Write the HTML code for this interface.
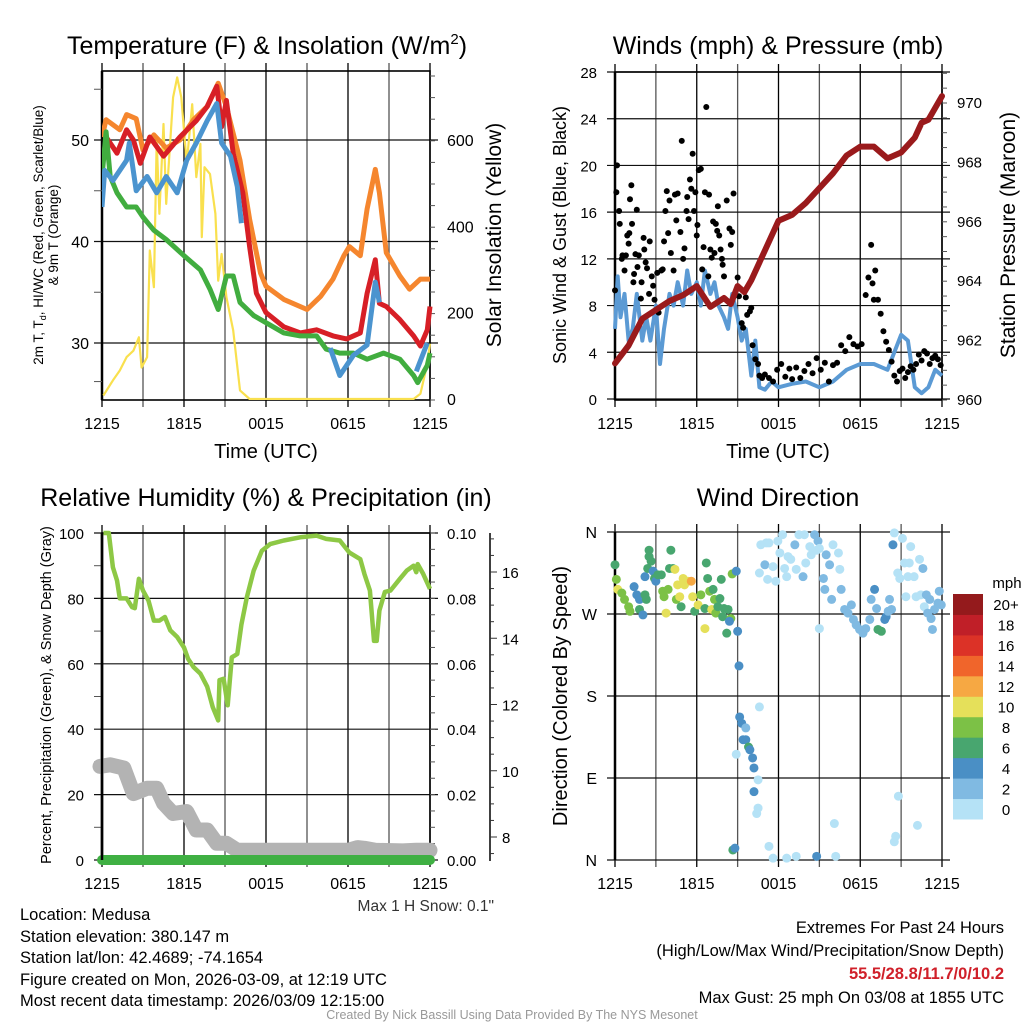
<!DOCTYPE html>
<html><head><meta charset="utf-8"><style>
html,body{margin:0;padding:0;background:#fff;}
svg{display:block;font-family:"Liberation Sans",Arial,sans-serif;}
</style></head><body>
<svg id="c" width="1024" height="1024" viewBox="0 0 1024 1024" xmlns="http://www.w3.org/2000/svg">
<rect width="1024" height="1024" fill="#fff"/>
<g id="p1"></g>
<g id="p2"></g>
<g id="p3"></g>
<g id="p4"></g>
<g font-size="25" text-anchor="middle" fill="#000">
<text x="267" y="54">Temperature (F) &amp; Insolation (W/m<tspan dy="-10" font-size="15">2</tspan><tspan dy="10">)</tspan></text>
<text x="778" y="54">Winds (mph) &amp; Pressure (mb)</text>
<text x="266" y="506">Relative Humidity (%) &amp; Precipitation (in)</text>
<text x="778" y="506">Wind Direction</text>
</g>
<g font-size="16.5" fill="#000">
<text x="494" y="911" text-anchor="end" fill="#333" font-size="15.5">Max 1 H Snow: 0.1"</text>
<text x="20" y="920">Location: Medusa</text>
<text x="20" y="942">Station elevation: 380.147 m</text>
<text x="20" y="963">Station lat/lon: 42.4689; -74.1654</text>
<text x="20" y="985">Figure created on Mon, 2026-03-09, at 12:19 UTC</text>
<text x="20" y="1006">Most recent data timestamp: 2026/03/09 12:15:00</text>
<text x="1004" y="933" text-anchor="end">Extremes For Past 24 Hours</text>
<text x="1004" y="956" text-anchor="end">(High/Low/Max Wind/Precipitation/Snow Depth)</text>
<text x="1004" y="979" text-anchor="end" fill="#d0202a" font-weight="bold">55.5/28.8/11.7/0/10.2</text>
<text x="1004" y="1003" text-anchor="end">Max Gust: 25 mph On 03/08 at 1855 UTC</text>
<text x="512" y="1019" text-anchor="middle" font-size="12.5" fill="#999">Created By Nick Bassill Using Data Provided By The NYS Mesonet</text>
</g>
</svg>
<script>
// ---------- DATA ----------
const xTickLabels=["1215","1815","0015","0615","1215"];
const redHours=[0.1,0.3,1.1,1.8,2.3,2.8,3.5,4.5,5.7,6.9,7.7,8.4,8.75,9.1,9.6,10.3,10.8,11.3,12,13.3,14.5,15.7,16.9,17.9,18.9,19.4,20,20.3,20.8,21.8,22.8,23.3,23.8,24];
const tempRed=[48,50.3,48.7,51,50,47.7,50.3,48.4,50.3,51.9,53.3,55.3,51.3,53.9,48.7,44.8,39.5,34.9,33,31.6,31,31.3,30.7,30.4,31,34.9,38.2,33.9,33.6,32.3,30.7,29.7,31.3,33.6];
const orangeHours=[0,0.3,1.3,1.8,2.5,3,3.8,4.7,5.7,6.7,7.7,8.5,9.1,10.1,10.8,11.6,12,13.3,15,16,16.9,17.7,18.1,18.9,19.4,20,20.3,20.8,21.8,22.5,23.3,24];
const tempOrange=[50.3,52,51,52.5,52.1,49,50.5,49.2,50,52,53.3,55.6,53.3,48,42.2,36.9,35.6,34.3,33.3,34.6,36.3,38.6,39.5,38.6,43.2,47.1,44.8,38.9,36.6,35.3,36.3,36.3];
const greenHours=[0,0.3,0.6,1.1,1.8,2.5,3,3.8,4.7,6,7.2,7.9,8.5,9.1,9.6,10.1,11.1,12,13.3,14.5,15.7,16.4,17.4,18.4,19.4,20.6,21.8,22.8,23.1,23.8,24];
const tempGreen=[46.4,50.8,46.4,44.8,43.4,43.4,42.4,41.1,40.2,38.6,37.2,35.3,33.3,36.6,36.6,34,32.7,32,31,30.7,30.7,29.4,29,29,28.4,29,28.4,26.8,26.1,27.8,29];
const blueHours=[0,0.2,0.8,1.8,2,2.5,3.3,4,4.7,5.5,6.2,6.9,7.7,8.4,8.75,9.4,9.9,10.2,10.3,16.7,17.4,18.4,19.4,20,20.3,20.5,23,23.8];
const tempBlue=[43.4,47,46,48,49.7,45,46.4,44.8,46.4,44.8,48,49.7,51.9,53.6,49.7,48.4,45.4,41.8,null,29.5,26.8,28.8,29.8,36,34,null,27.2,30];
const solarHours=[0.1,0.8,1.3,1.8,2.3,2.7,2.9,3.3,3.5,3.8,4,4.2,4.5,4.7,5.2,5.5,5.8,6.2,6.6,6.9,7.2,7.3,7.5,7.9,8.3,8.5,8.75,9.1,9.6,10.1,10.8,22.8,23.3,23.8,24];
const solar=[8,43,66,97,112,143,73,97,344,259,599,429,637,452,699,745,699,545,683,514,591,375,537,521,429,274,336,236,159,20,0,0,12,81,128];
const tempTicks=[30,40,50];
const solarTicks=[0,200,400,600];

const windHours=[0,0.2,0.4,0.7,1,1.3,1.6,2,2.3,2.6,3,3.3,3.6,4,4.3,4.6,5,5.3,5.6,6,6.3,6.6,7,7.3,7.6,8,8.3,8.6,9,9.3,9.6,10,10.3,10.6,11,11.5,12,13,14,15,16,17,18,19,20,20.5,21,21.5,22,22.5,23,23.5,24];
const windSpeed=[6,10.5,7,9,5,6,9,5,7,5,8,3,6,9,8,10,8,11,9,10,8,11,9,10,8,7,6,9,7,5,6,2,5,1,0.8,1.5,1,1.3,1.5,1,1.5,2.5,3,3,2.5,4,5.5,5,1,0.5,1,2.5,2];
const presHours=[0,1,2,3,4,5,6,7,8,8.5,9,9.5,10,11,12,13,14,15,16,17,18,19,20,21,22,22.5,23,24];
const pressure=[961.2,961.8,962.7,963,963.3,963.5,963.8,963.1,963.4,963.2,963.8,963.6,964,965,966,966.2,966.6,967.1,967.6,968.2,968.5,968.5,968.1,968.3,968.8,969.3,969.4,970.2];
const gustHours=[0,0.1,0.15,0.3,0.35,0.5,0.55,0.7,0.8,0.9,1,1.05,1.1,1.2,1.25,1.35,1.4,1.5,1.6,1.65,1.75,1.9,1.95,2.1,2.15,2.25,2.35,2.5,2.55,2.7,2.8,2.9,3.1,3.2,3.4,3.5,3.6,3.7,3.8,3.9,4,4.1,4.3,4.4,4.5,4.6,4.8,4.9,5,5.1,5.25,5.3,5.4,5.5,5.6,5.7,5.8,5.9,6,6.05,6.15,6.3,6.4,6.5,6.6,6.7,6.85,6.9,7,7.1,7.2,7.3,7.4,7.5,7.55,7.65,7.75,7.85,7.9,8,8.2,8.4,8.5,8.6,8.7,9,9.1,9.3,9.4,9.6,9.7,9.9,10,10.1,10.3,10.5,10.6,10.8,11,11.3,11.6,11.9,12.2,12.5,12.8,13,13.3,13.6,13.9,14.2,14.5,14.8,15.1,15.4,15.7,16,16.3,16.6,16.9,17.2,17.5,17.8,18.1,18.4,18.6,18.8,18.9,19,19.1,19.3,19.5,19.7,19.9,20.1,20.3,20.5,20.7,20.9,21.1,21.3,21.5,21.7,21.9,22.1,22.3,22.5,22.7,22.9,23.1,23.3,23.5,23.7,23.9];
const gustSpeed=[9.3,17.7,20,16.1,15,12,12.3,11,12.3,14,13.3,14.2,17.1,18.3,15,10,10.7,12.4,16.2,11.3,12.3,8.6,10,13.8,12.8,11.7,11.2,9,13.5,10.5,9.7,8.5,10.8,7.4,11,11.1,13.5,16.1,17.8,14.2,17,12.5,11,17.5,15.3,17.6,14.3,22.1,12,12.9,16.1,17.3,15.4,18.8,18,21,16.1,17.7,14,14.9,19.6,19.7,11.1,13,17.7,25,10.5,17.5,12.8,12.1,15.2,12.5,15,14.4,16.5,14,12.8,12,11.5,10.5,17,14.6,13.2,14.3,17.6,10.4,8.8,6.5,6.1,8.7,7.2,7.5,7.8,4.6,3.4,3,2,1.8,2.1,1.8,1.5,2.5,3,1.9,2.6,1.7,2.7,1.8,2.4,3,2.2,3.5,2.5,3.1,1.5,2.9,3.1,4.6,4.1,5.3,4.7,4.5,4.7,8.9,10.4,13.2,9.9,8.5,11,8.5,7.3,5.8,4.9,4.2,3.2,2,1.5,2.4,2.6,1.8,2.3,2.8,2.5,3,3.8,3.3,4.1,3.9,3,3.5,3.7,3.4,2.9];
const windTicks=[0,4,8,12,16,20,24,28];
const presTicks=[960,962,964,966,968,970];

const rhHours=[0.1,0.5,0.8,1.1,1.3,1.8,2.2,2.4,2.7,3,3.4,3.8,4.2,4.6,5,5.5,6,6.3,6.7,7.2,7.7,8.1,8.5,8.6,8.9,9.2,9.5,9.9,10.2,10.6,11.1,11.7,12.3,13.3,14.5,15.7,16.4,17.4,18.1,18.9,19.2,19.6,19.9,20.1,20.3,20.7,21.1,21.8,22.3,22.8,23,23.1,23.5,24];
const rh=[100,100,89.5,85.5,80,80,77.3,77,86,82.4,79.3,73.2,73.2,74.3,70.2,68.2,65,61.5,59,57,53,46.8,42.7,55,55.4,47.3,62,63,72,80.4,88.5,94.6,96.6,97.7,98.7,99.2,98.2,97.7,94,92,87.5,82.4,67,67,76.3,82,82.4,86,88.5,90,88,90.5,87.5,82.9];
const snowHours=[-0.15,0.6,1.6,2.3,3.3,4,4.5,5.2,6.2,6.9,7.7,8.4,9.1,9.9,12,15,18,18.7,19.2,20,22,23,24];
const snowDepth=[10.13,10.18,10.08,9.31,9.47,9.47,9.02,8.71,8.77,8.21,8.21,7.81,7.81,7.6,7.6,7.6,7.6,7.68,7.66,7.6,7.58,7.6,7.6];
const precipHours=[0,24];
const precip=[0,0];
const rhTicks=[0,20,40,60,80,100];
const precipTicks=["0.00","0.02","0.04","0.06","0.08","0.10"];
const snowTicks=[8,10,12,14,16];

const dirHours=[0,0.1,0.2,0.5,0.7,1,1.1,1.4,1.6,1.8,1.8,2.05,2.2,2.3,2.2,2.4,2.5,2.5,2.65,2.8,2.9,3,3.15,3.4,3.5,3.6,3.75,3.9,4,4.1,4.25,4.4,4.5,4.6,4.75,4.85,5,5.1,5.35,5.6,5.7,5.85,6.1,6.3,6.6,6.7,6.8,6.95,6.6,7.1,7.2,7.3,7.4,7.55,7.7,7.8,7.9,8,8.2,8.3,8.5,8.4,8.6,8.9,9,9.1,9.15,9.3,9.4,9.6,9.8,9.9,10.1,10.2,10.5,10.2,10.5,10.4,9.6,10.6,8.9,8.65,8.8,11.3,11.6,12.6,13.3,14.8,16.2,16.1,20.8,22.2,20.6,20.5,15,10.6,10.7,11,11.1,11.2,11.3,11.6,11.8,11.95,12.1,12.3,12.45,12.6,12.7,12.9,13.2,13.3,13.5,13.8,13.9,14,14.3,14.4,14.65,14.8,14.9,15,15.3,15.4,15.5,15.75,15.9,16,16.4,16.5,16.6,16.85,17.1,17.35,17.5,17.7,17.95,18.2,18.4,18.7,18.8,19.05,19.2,19.3,19.55,19.8,19.9,20.05,20.15,20.3,20.4,20.5,20.75,20.9,21.1,21.25,21.35,21.5,21.6,21.7,21.95,22.1,22.35,22.45,22.6,22.7,22.85,22.95,23.1,23.2,23.3,23.45,23.7,23.8,23.95];
const dirDeg=[324,308,297,293,286,278,273,300,291,286,275,269,291,286,311,320,333,340,328,317,309,306,313,313,295,289,271,297,320,340,320,319,286,302,289,278,309,302,306,306,289,273,280,291,276,326,309,295,254,275,297,286,271,278,287,308,267,276,249,275,265,262,314,317,251,213,157,150,132,132,124,121,112,101,88,75,57,51,145,168,116,11,13,15,2,2,4,4,4,40,70,38,26,20,254,315,346,324,348,308,348,322,306,350,337,357,320,311,333,330,346,319,357,311,357,326,344,335,357,340,350,342,309,297,335,324,286,346,337,319,297,275,271,280,264,258,253,249,254,264,286,297,276,253,251,264,267,273,286,275,346,359,315,309,353,326,289,311,326,344,311,289,330,291,320,278,291,271,286,265,253,275,282,295,280];
const dirSpeed=[7,9,10.5,8.5,8.5,8.5,8.5,5,5,5,7,5,7,7,5,7,7,7,7,5,7,5,7,7,9,9,10.5,9,7,7,7,10.5,9,10.5,10.5,7,10.5,10.5,10.5,13,10.5,7,10.5,9,7,7,7,9,10.5,10.5,7,9,9,7,7,7,7,7,7,7,9,5,9,5,5,5,5,5,5,5,7,5,5,5,1,5,1,1,3,1,1,7,5,1,1,1,1,5,1,1,1,1,1,1,1,1,1,3,1,1,1,1,1,1,1,1,1,1,1,1,3,1,1,3,1,1,1,1,3,1,3,1,3,3,3,3,3,1,1,1,3,3,3,3,3,3,3,3,3,3,3,5,3,7,7,5,5,3,3,3,5,1,1,1,1,1,1,1,1,1,1,1,1,1,3,1,3,3,3,3,3,3,3,3,3,3];
const dirTicks=["N","E","S","W","N"];
const speedBins=["0","2","4","6","8","10","12","14","16","18","20+"];
const speedColors=["#b5e2f6","#80bae2","#4a8fc5","#48a66f","#7cc146","#e5e05a","#f6a843","#f0652b","#dc3227","#c01f28","#941a1c"];

// ---------- HELPERS ----------
const NS="http://www.w3.org/2000/svg";
function mk(parent,tag,attrs,text){const e=document.createElementNS(NS,tag);for(const k in attrs)e.setAttribute(k,attrs[k]);if(text!==undefined)e.textContent=text;parent.appendChild(e);return e;}
function lin(d0,d1,r0,r1){return v=>r0+(v-d0)*(r1-r0)/(d1-d0);}
function pathFrom(xs,ys,fx,fy){let d="",pen=false;for(let i=0;i<xs.length;i++){if(ys[i]===null){pen=false;continue;}d+=(pen?"L":"M")+fx(xs[i]).toFixed(1)+","+fy(ys[i]).toFixed(1);pen=true;}return d;}
const X0=102,X1=430,Y0=71,Y1=400;
function frame(g,x0,x1,y0,y1,hl){
  const fx=lin(0,24,x0,x1);
  for(let h=0;h<=24;h+=3){
    const l=mk(g,"line",{x1:fx(h),x2:fx(h),y1:y0-8,y2:y1+7,stroke:(h%6===0)?"#000":"#555","stroke-width":1.3});
    
    
  }
  hl.forEach(y=>{const l=mk(g,"line",{x1:x0-8,x2:x1+8,y1:y,y2:y,stroke:"#111","stroke-width":1.2});
    
    });
  const r=mk(g,"rect",{x:x0,y:y0,width:x1-x0,height:y1-y0,fill:"none",stroke:"#000","stroke-width":1.6});
  
  
  mk(g,"line",{x1:x0,x2:x0,y1:y0,y2:y1,stroke:"#000","stroke-width":2.5});
  xTickLabels.forEach((t,i)=>{const e=mk(g,"text",{x:fx(i*6),y:y1+29,"font-size":16,"text-anchor":"middle"},t);
    
    });
  return fx;
}
function minorTicks(g,x,y0,y1,step){for(let y=y1;y>=y0-0.5;y-=step){mk(g,"line",{x1:x,x2:x+5,y1:y,y2:y,stroke:"#555","stroke-width":1});}}

// ---------- PANEL 1 ----------
(function(){
  const g=document.getElementById("p1");
  const fy=lin(30,50,343,140), fs=lin(0,600,399,140);
  const fx=frame(g,X0,X1,Y0,Y1,tempTicks.map(fy));
  minorTicks(g,X1,Y0,Y1,21.6);
  tempTicks.forEach(v=>{const e=mk(g,"text",{x:89,y:fy(v)+6,"font-size":16,"text-anchor":"end"},v);
    });
  [26.2,35,45,55].forEach(v=>mk(g,"line",{x1:X0-8,x2:X0,y1:fy(v),y2:fy(v),stroke:"#555"}));
  solarTicks.forEach(v=>{const e=mk(g,"text",{x:447,y:fs(v)+6,"font-size":16},v);
    });
  const t1=mk(g,"text",{transform:"translate(43,235) rotate(-90)","font-size":13.5,"text-anchor":"middle"});
  t1.innerHTML='2m T, T<tspan font-size="9" dy="3">d</tspan><tspan dy="-3">, HI/WC (Red, Green, Scarlet/Blue)</tspan>';
  
  const t2=mk(g,"text",{transform:"translate(58,235) rotate(-90)","font-size":13.5,"text-anchor":"middle"},"& 9m T (Orange)");
  
  const t3=mk(g,"text",{transform:"translate(501,235) rotate(-90)","font-size":21,"text-anchor":"middle"},"Solar Insolation (Yellow)");
  
  const t4=mk(g,"text",{x:266,y:458,"font-size":20,"text-anchor":"middle"},"Time (UTC)");
  
  const cp=mk(mk(g,"defs",{}),"clipPath",{id:"clip1"});mk(cp,"rect",{x:X0,y:Y0-6,width:X1-X0+4,height:Y1-Y0+6});
  const cg=mk(g,"g",{"clip-path":"url(#clip1)"});
  let p;
  p=mk(cg,"path",{d:pathFrom(solarHours,solar,fx,fs),fill:"none",stroke:"#f9e04e","stroke-width":2.2,"stroke-linejoin":"round"});
  
  p=mk(cg,"path",{d:pathFrom(orangeHours,tempOrange,fx,fy),fill:"none",stroke:"#f5862e","stroke-width":5,"stroke-linejoin":"round"});
  
  p=mk(cg,"path",{d:pathFrom(redHours,tempRed,fx,fy),fill:"none",stroke:"#d71f26","stroke-width":5,"stroke-linejoin":"round"});
  
  p=mk(cg,"path",{d:pathFrom(greenHours,tempGreen,fx,fy),fill:"none",stroke:"#41ad3f","stroke-width":5,"stroke-linejoin":"round"});
  
  p=mk(cg,"path",{d:pathFrom(blueHours,tempBlue,fx,fy),fill:"none",stroke:"#4b94cf","stroke-width":5,"stroke-linejoin":"round"});
  
})();

// ---------- PANEL 2 ----------
(function(){
  const g=document.getElementById("p2");
  const x0=615,x1=942;
  const fy=lin(0,28,399,72), fp=lin(960,970,399,102);
  const fx=frame(g,x0,x1,Y0+1,Y1,windTicks.map(fy));
  minorTicks(g,x1,Y0,Y1,14.85);
  windTicks.forEach(v=>{const e=mk(g,"text",{x:597,y:fy(v)+6,"font-size":15,"text-anchor":"end"},v);
    });
  presTicks.forEach(v=>{const e=mk(g,"text",{x:957,y:fp(v)+6,"font-size":15},v);
    });
  const t1=mk(g,"text",{transform:"translate(566,235) rotate(-90)","font-size":18,"text-anchor":"middle"},"Sonic Wind & Gust (Blue, Black)");
  
  const t2=mk(g,"text",{transform:"translate(1015,235) rotate(-90)","font-size":21,"text-anchor":"middle"},"Station Pressure (Maroon)");
  
  const t3=mk(g,"text",{x:778,y:458,"font-size":20,"text-anchor":"middle"},"Time (UTC)");
  
  let p=mk(g,"path",{d:pathFrom(windHours,windSpeed,fx,fy),fill:"none",stroke:"#5b9ad4","stroke-width":4,"stroke-linejoin":"round"});
  
  gustHours.forEach((h,i)=>{const c=mk(g,"circle",{cx:fx(h),cy:fy(gustSpeed[i]),r:3,fill:"#000"});
    });
  p=mk(g,"path",{d:pathFrom(presHours,pressure,fx,fp),fill:"none",stroke:"#9a1a1c","stroke-width":6,"stroke-linejoin":"round","stroke-linecap":"round"});
  
})();

// ---------- PANEL 3 ----------
(function(){
  const g=document.getElementById("p3");
  const y0=533,y1=860;
  const fy=lin(0,100,y1,y0), fsn=lin(8,16,837,572);
  const fx=frame(g,X0,X1,y0,y1,rhTicks.map(fy));
  minorTicks(g,X1,y0,y1,16.35);
  [10,30,50,70,90].forEach(v=>mk(g,"line",{x1:X0-8,x2:X0,y1:fy(v),y2:fy(v),stroke:"#555"}));
  rhTicks.forEach(v=>{const e=mk(g,"text",{x:84,y:fy(v)+6,"font-size":15,"text-anchor":"end"},v);
    });
  precipTicks.forEach((v,i)=>{const e=mk(g,"text",{x:447,y:fy(i*20)+6,"font-size":15},v);
    });
  const ax=mk(g,"line",{x1:490,x2:490,y1:y0,y2:y1+1,stroke:"#000","stroke-width":1.5});
  
  for(let v=7.5;v<=17;v+=0.5){const y=fsn(v);if(y<y0||y>y1)continue;mk(g,"line",{x1:490,x2:(v%2===0)?497:494,y1:y,y2:y,stroke:"#333"});}
  snowTicks.forEach(v=>{const e=mk(g,"text",{x:502,y:fsn(v)+6,"font-size":15},v);
    });
  const t1=mk(g,"text",{transform:"translate(51,695) rotate(-90)","font-size":14.5,"text-anchor":"middle"},"Percent, Precipitation (Green), & Snow Depth (Gray)");
  
  let p=mk(g,"path",{d:pathFrom(snowHours,snowDepth,fx,fsn),fill:"none",stroke:"#b3b3b3","stroke-width":15,"stroke-linejoin":"round","stroke-linecap":"round"});
  
  p=mk(g,"path",{d:pathFrom(precipHours,precip,fx,fy),fill:"none",stroke:"#3fb043","stroke-width":10,"stroke-linecap":"round"});
  
  p=mk(g,"path",{d:pathFrom(rhHours,rh,fx,fy),fill:"none",stroke:"#8dc845","stroke-width":4.5,"stroke-linejoin":"round"});
  
  mk(g,"line",{x1:X0,x2:X0,y1:y0,y2:y1,stroke:"#000","stroke-width":2.5});
})();

// ---------- PANEL 4 ----------
(function(){
  const g=document.getElementById("p4");
  const x0=615,x1=942,y0=532,y1=860;
  const fy=lin(0,360,y1,y0);
  const fx=lin(0,24,x0,x1);
  for(let h=0;h<=24;h+=3){const l=mk(g,"line",{x1:fx(h),x2:fx(h),y1:y0-8,y2:y1+7,stroke:(h%6===0)?"#000":"#555","stroke-width":1.3});
    }
  dirTicks.forEach((t,i)=>{const y=fy(i*90);
    const l=mk(g,"line",{x1:x0-8,x2:x1+8,y1:y,y2:y,stroke:"#111","stroke-width":1.2});
    
    const e=mk(g,"text",{x:597,y:y+6,"font-size":16,"text-anchor":"end"},t);
    });
  mk(g,"line",{x1:x0,x2:x0,y1:y0,y2:y1,stroke:"#000","stroke-width":2.5});
  xTickLabels.forEach((t,i)=>{const e=mk(g,"text",{x:fx(i*6),y:y1+29,"font-size":16,"text-anchor":"middle"},t);
    });
  const t1=mk(g,"text",{transform:"translate(567,696) rotate(-90)","font-size":20,"text-anchor":"middle"},"Direction (Colored By Speed)");
  
  function col(s){let i=Math.floor(s/2);if(i>10)i=10;return speedColors[i];}
  dirHours.forEach((h,i)=>{const c=mk(g,"circle",{cx:fx(h),cy:fy(dirDeg[i]),r:4.5,fill:col(dirSpeed[i])});
    });
  const cb=mk(g,"g",{});
  
  const by0=594,by1=819,n=speedBins.length,bh=(by1-by0)/n;
  speedBins.forEach((s,i)=>{
    const y=by1-(i+1)*bh;
    const r=mk(cb,"rect",{x:953,y:y,width:30,height:bh+0.5,fill:speedColors[i]});
    
    const e=mk(cb,"text",{x:1006,y:y+bh/2+6,"font-size":15,"text-anchor":"middle"},s);
    
  });
  const m=mk(cb,"text",{x:1007,y:588,"font-size":15,"text-anchor":"middle"},"mph");
  
})();
</script>
</body></html>
